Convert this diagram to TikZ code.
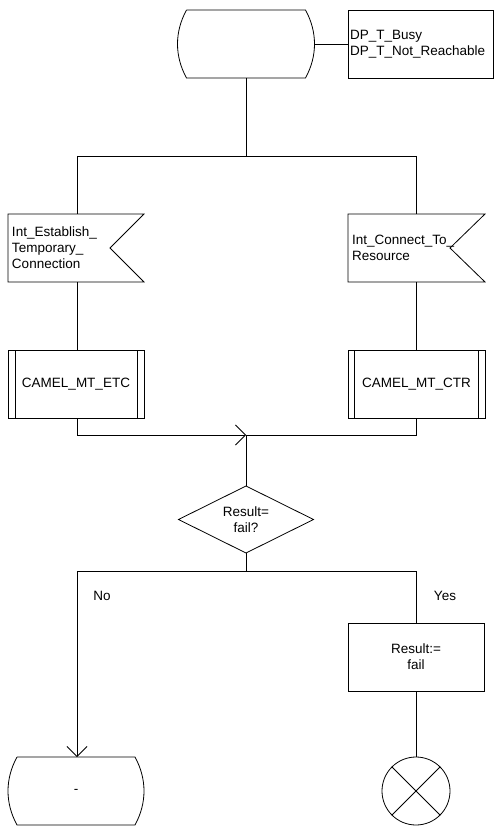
\documentclass[tikz,border=0pt]{standalone}
\usepackage{fontspec}
\setmainfont{Liberation Sans}
\usetikzlibrary{arrows.meta}
\begin{document}
\begin{tikzpicture}[x=1pt,y=-1pt,line width=0.8pt,
  txt/.style={font=\fontsize{13.5}{16}\selectfont},
  blk/.style={txt,minimum width=136pt,minimum height=68pt,inner sep=0pt,outer sep=0pt},
  frame/.style={blk,draw},
  arr/.style={-{Straight Barb[length=10pt,width=20pt,line width=0.8pt]}}]
\useasboundingbox (0,0) rectangle (494,826);
% start state
\node[blk,minimum width=137pt] (start) at (246,44) {};
\draw ([xshift=9]start.north west) -- ([xshift=-9]start.north east)
  .. controls +(12,22) and +(12,-22) .. ([xshift=-9]start.south east)
  -- ([xshift=9]start.south west)
  .. controls +(-12,-22) and +(-12,22) .. ([xshift=9]start.north west);
% comment box
\node[frame,txt,minimum width=145pt,text width=141pt,inner xsep=2pt,align=left] (cond) at (420.5,44) {DP\_T\_Busy\\DP\_T\_Not\_Reachable};
\draw (start.east) -- (cond.west);
% split
\coordinate (j1) at (246,156);
\coordinate (jl) at (77,156);
\coordinate (jr) at (416,156);
\draw (start.south) -- (j1);
\draw (jl) -- (jr);
% input signals
\node[blk,text width=128pt,inner xsep=4pt,align=left] (sigL) at (76,248) {Int\_Establish\_\\Temporary\_\\Connection};
\draw (sigL.north west) -- (sigL.north east) -- ([xshift=-34]sigL.east) -- (sigL.south east) -- (sigL.south west) -- cycle;
\node[blk,minimum width=137pt,text width=129pt,inner xsep=4pt,align=left] (sigR) at (416.5,248) {Int\_Connect\_To\_\\Resource};
\draw (sigR.north west) -- (sigR.north east) -- ([xshift=-35]sigR.east) -- (sigR.south east) -- (sigR.south west) -- cycle;
\draw (jl) -- (jl |- sigL.north);
\draw (jr) -- (jr |- sigR.north);
% procedures
\node[frame] (procL) at (76,384) {CAMEL\_MT\_ETC};
\draw ([xshift=7]procL.north west) -- ([xshift=7]procL.south west);
\draw ([xshift=-7]procL.north east) -- ([xshift=-7]procL.south east);
\node[frame,minimum width=137pt] (procR) at (416.5,384) {CAMEL\_MT\_CTR};
\draw ([xshift=6]procR.north west) -- ([xshift=6]procR.south west);
\draw ([xshift=-7]procR.north east) -- ([xshift=-7]procR.south east);
\draw (jl |- sigL.south) -- (jl |- procL.north);
\draw (jr |- sigR.south) -- (jr |- procR.north);
% merge
\coordinate (merge) at (246,435);
\draw[arr] (jl |- procL.south) |- (merge);
\draw (jr |- procR.south) |- (merge);
% decision
\node[blk,minimum width=135pt,minimum height=67pt,align=center] (dec) at (246,519.5) {Result=\\fail?};
\draw (dec.north) -- (dec.east) -- (dec.south) -- (dec.west) -- cycle;
\draw (merge) -- (dec.north);
\coordinate (j2) at (246,571);
\coordinate (j2l) at (77,571);
\coordinate (j2r) at (416,571);
\draw (dec.south) -- (j2);
\draw (j2l) -- (j2r);
\node[txt,inner sep=0pt] (no) at (102,596) {No};
\node[txt,inner sep=0pt] (yes) at (445,596) {Yes};
% task
\node[frame,align=center] (task) at (416,657) {Result:=\\fail};
\draw (j2r) -- (task.north);
% end state
\node[blk,txt] (endL) at (76,791) {-};
\draw ([xshift=9]endL.north west) -- ([xshift=-9]endL.north east)
  .. controls +(12,22) and +(12,-22) .. ([xshift=-9]endL.south east)
  -- ([xshift=9]endL.south west)
  .. controls +(-12,-22) and +(-12,22) .. ([xshift=9]endL.north west);
\draw[arr] (j2l) -- (j2l |- endL.north);
% stop
\node[draw,circle,minimum size=68pt,inner sep=0pt] (stop) at (416,791) {};
\draw (stop.45) -- (stop.225);
\draw (stop.135) -- (stop.315);
\draw (task.south) -- (stop.north);
\end{tikzpicture}
\end{document}
